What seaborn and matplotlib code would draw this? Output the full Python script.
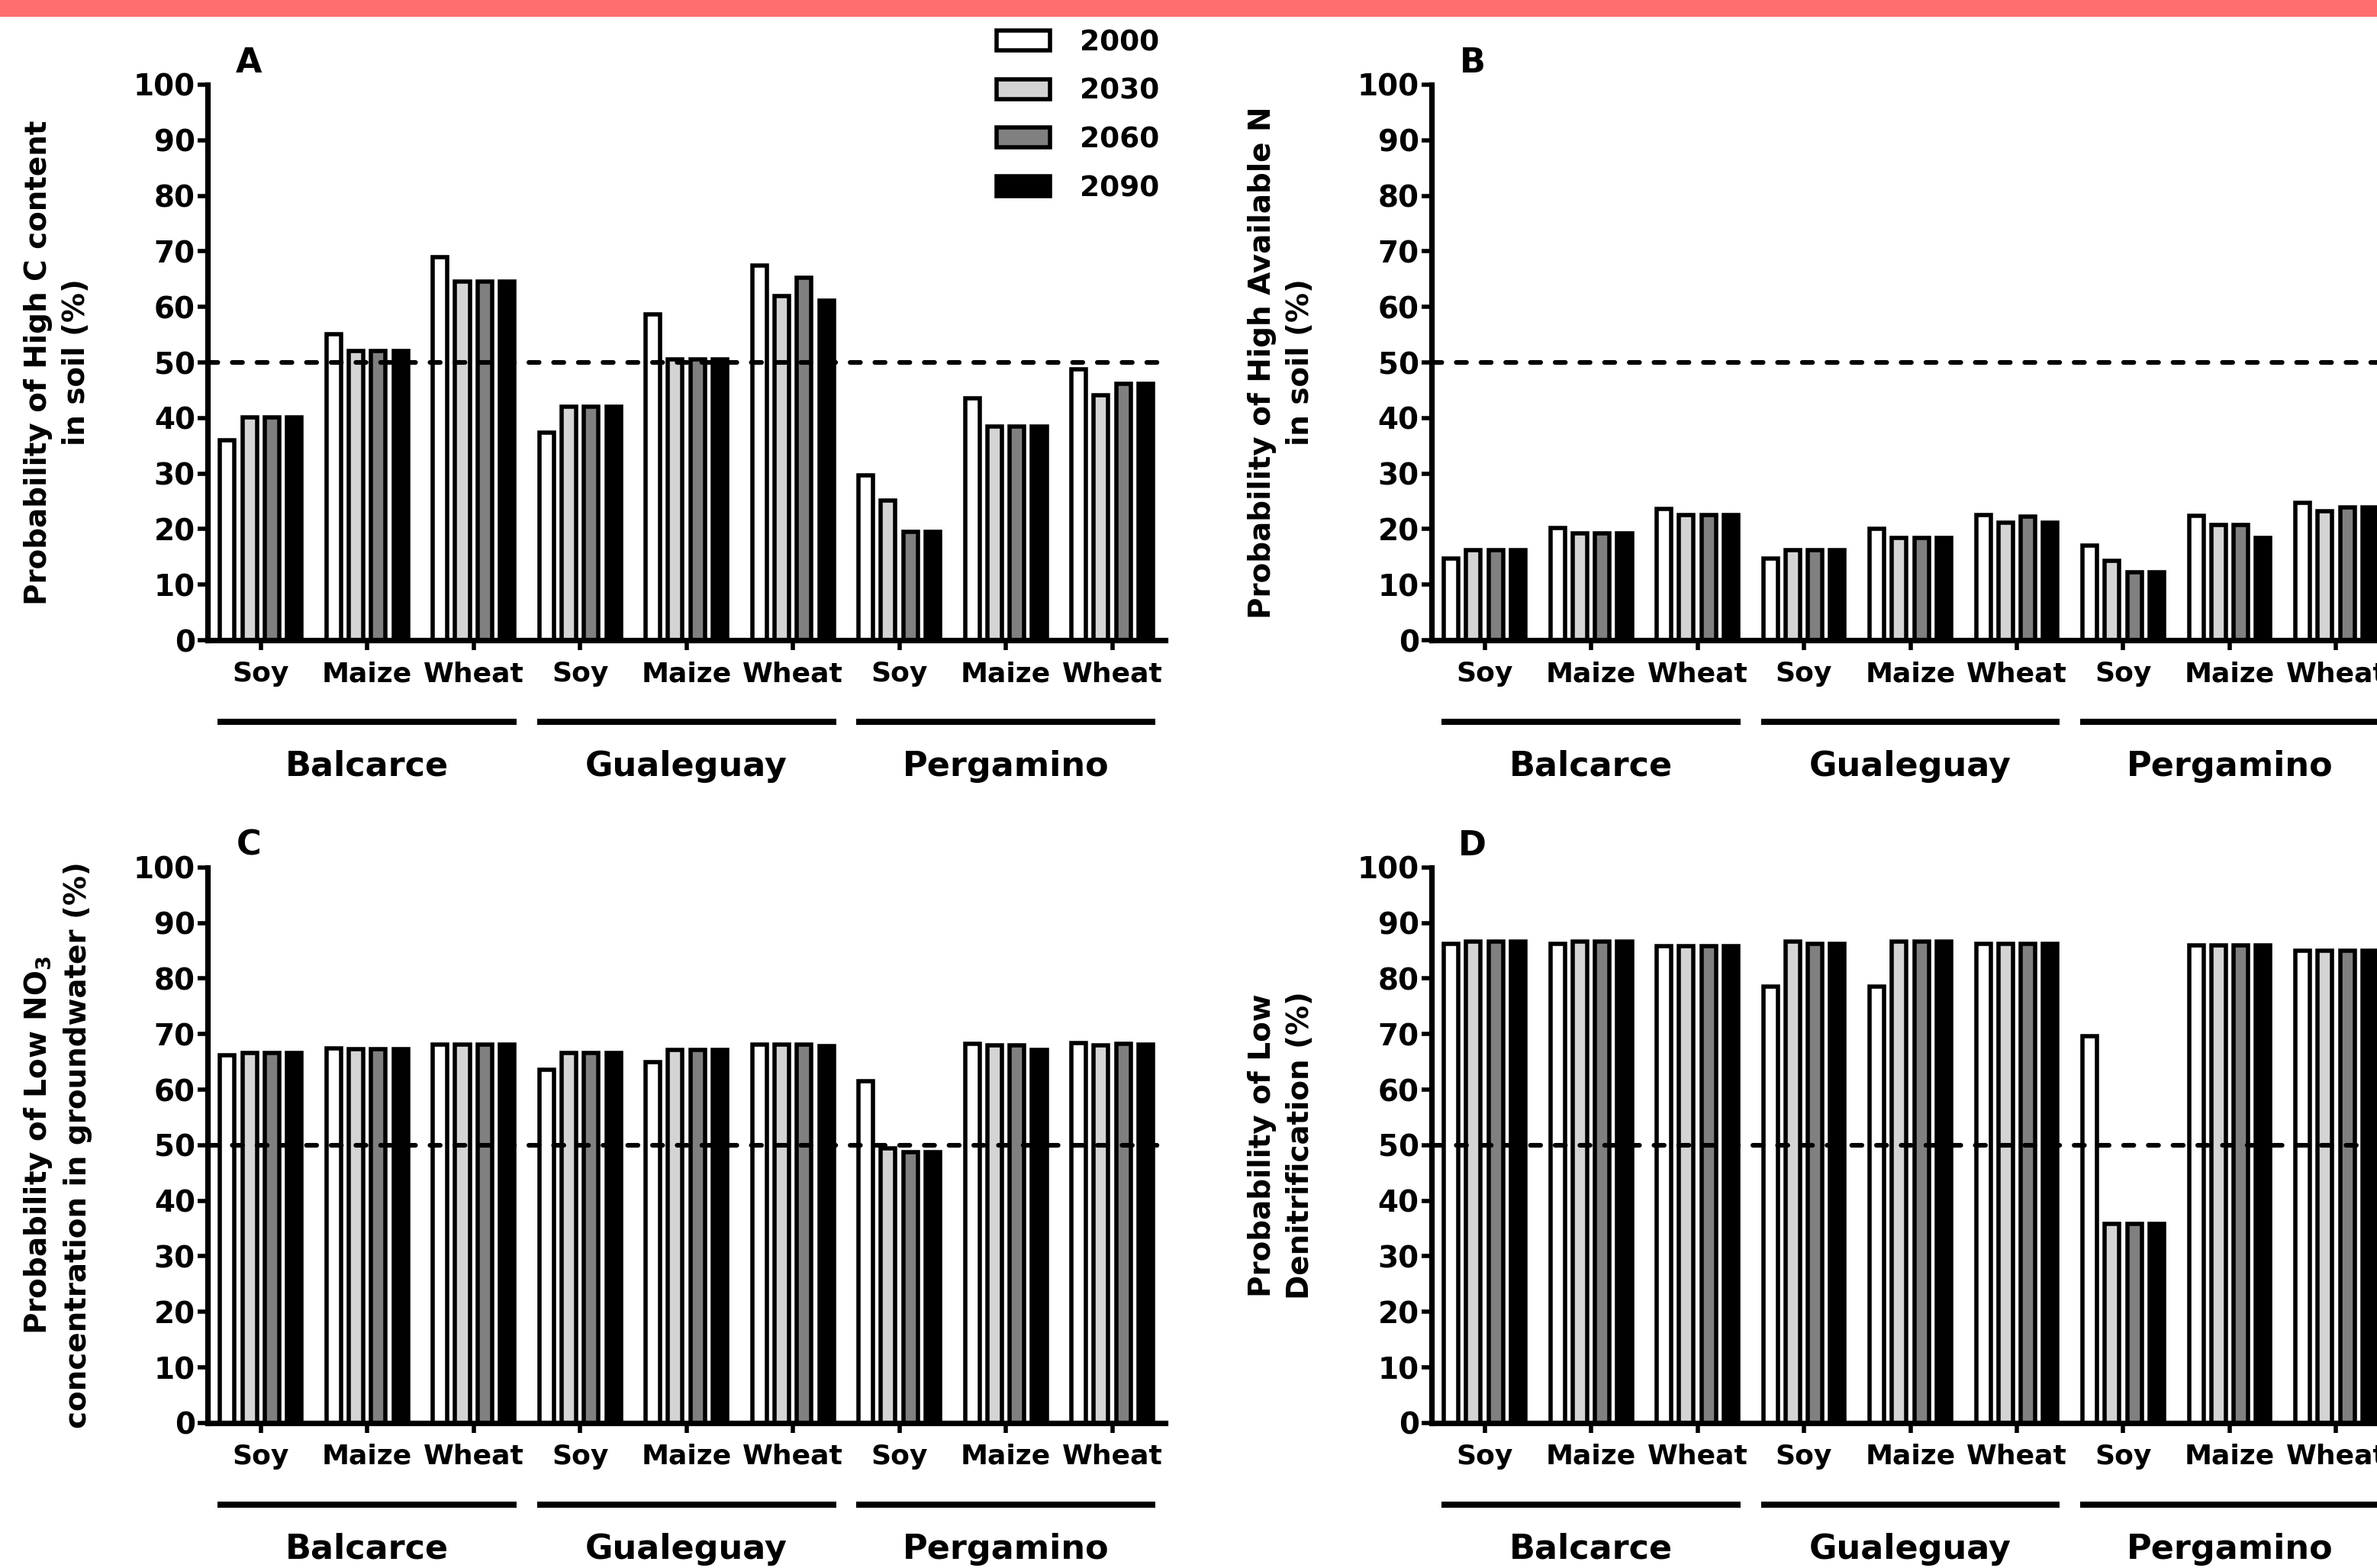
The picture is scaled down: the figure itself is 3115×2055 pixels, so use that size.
import numpy as np
import pandas as pd
import matplotlib
matplotlib.use("Agg")
import matplotlib.pyplot as plt
from matplotlib.patches import Rectangle
import seaborn as sns

# ---------------- data ----------------
sites = ["Balcarce", "Gualeguay", "Pergamino"]
crops = ["Soy", "Maize", "Wheat"]
years = ["2000", "2030", "2060", "2090"]
year_colors = ["#FFFFFF", "#D4D4D4", "#808080", "#000000"]

# Panel A: probability of high C content in soil (%)
carbon_2000 = [36.0, 55.1, 69.0, 37.4, 58.6, 67.4, 29.7, 43.5, 48.8]
carbon_2030 = [40.1, 52.0, 64.6, 42.0, 50.5, 61.9, 25.1, 38.4, 44.1]
carbon_2060 = [40.1, 52.0, 64.6, 42.0, 50.5, 65.3, 19.5, 38.4, 46.1]
carbon_2090 = [40.1, 52.0, 64.6, 42.0, 50.5, 61.1, 19.5, 38.4, 46.1]

# Panel B: probability of high available N in soil (%)
nitrogen_2000 = [14.7, 20.2, 23.6, 14.7, 20.1, 22.5, 17.0, 22.4, 24.7]
nitrogen_2030 = [16.2, 19.3, 22.6, 16.2, 18.4, 21.2, 14.3, 20.7, 23.2]
nitrogen_2060 = [16.2, 19.3, 22.6, 16.2, 18.4, 22.2, 12.2, 20.7, 23.9]
nitrogen_2090 = [16.2, 19.3, 22.6, 16.2, 18.4, 21.1, 12.2, 18.4, 23.9]

# Panel C: probability of low NO3 concentration in groundwater (%)
nitrate_2000 = [66.2, 67.4, 68.1, 63.6, 65.0, 68.1, 61.5, 68.2, 68.4]
nitrate_2030 = [66.6, 67.3, 68.1, 66.6, 67.2, 68.1, 49.4, 68.0, 68.0]
nitrate_2060 = [66.6, 67.3, 68.1, 66.6, 67.2, 68.1, 48.8, 68.0, 68.2]
nitrate_2090 = [66.6, 67.3, 68.1, 66.6, 67.2, 67.8, 48.7, 67.1, 68.1]

# Panel D: probability of low denitrification (%)
denit_2000 = [86.2, 86.2, 85.8, 78.5, 78.5, 86.3, 69.6, 86.0, 85.0]
denit_2030 = [86.6, 86.7, 85.8, 86.7, 86.7, 86.3, 35.8, 86.0, 85.0]
denit_2060 = [86.6, 86.7, 85.8, 86.2, 86.7, 86.3, 35.8, 86.0, 85.0]
denit_2090 = [86.6, 86.7, 85.8, 86.2, 86.7, 86.3, 35.8, 86.0, 85.0]

y_ticks = [0, 10, 20, 30, 40, 50, 60, 70, 80, 90, 100]
threshold = 50

panel_letters = ["A", "B", "C", "D"]
panel_ylabels = [
    "Probability of High C content\nin soil (%)",
    "Probability of High Available N\nin soil (%)",
    "Probability of Low NO$_\\mathbf{3}$\nconcentration in groundwater (%)",
    "Probability of Low\nDenitrification (%)",
]
panel_series = [
    [carbon_2000, carbon_2030, carbon_2060, carbon_2090],
    [nitrogen_2000, nitrogen_2030, nitrogen_2060, nitrogen_2090],
    [nitrate_2000, nitrate_2030, nitrate_2060, nitrate_2090],
    [denit_2000, denit_2030, denit_2060, denit_2090],
]

keys = [f"{s}|{c}" for s in sites for c in crops]


def make_df(series):
    rows = []
    for yr, vals in zip(years, series):
        for k, v in zip(keys, vals):
            rows.append({"key": k, "year": yr, "value": v})
    return pd.DataFrame(rows)


# ---------------- style ----------------
sns.set_style("ticks")
plt.rcParams["font.family"] = ["DejaVu Sans"]
plt.rcParams["font.weight"] = "bold"
plt.rcParams["axes.labelweight"] = "bold"
plt.rcParams["mathtext.default"] = "bf"
for key in ["text.color", "axes.labelcolor", "xtick.color", "ytick.color",
            "axes.edgecolor"]:
    plt.rcParams[key] = "black"

W, H = 3115, 2055
DPI = 200
fig = plt.figure(figsize=(W / DPI, H / DPI), dpi=DPI, facecolor="white")

ax_w = 0.403
ax_h = 0.3543
lefts = [0.0873, 0.6022]
bottoms = [0.5917, 0.0925]
positions = [
    (lefts[0], bottoms[0]), (lefts[1], bottoms[0]),
    (lefts[0], bottoms[1]), (lefts[1], bottoms[1]),
]

# top banner
fig.add_artist(Rectangle((0, 1 - 22 / H), 1, 22 / H, transform=fig.transFigure,
                         color="#FF6F6F", lw=0, zorder=0))

legend_handles = None
for i, (pos, series) in enumerate(zip(positions, panel_series)):
    ax = fig.add_axes([pos[0], pos[1], ax_w, ax_h])
    df = make_df(series)
    sns.barplot(data=df, x="key", y="value", hue="year", order=keys,
                hue_order=years, palette=year_colors, saturation=1,
                edgecolor="black", linewidth=2.0, width=0.84, gap=0.35,
                errorbar=None, ax=ax, legend=(i == 0), zorder=2)
    if i == 0:
        legend_handles, legend_labels = ax.get_legend_handles_labels()
        ax.get_legend().remove()

    ax.set_xlim(-0.5, len(keys) - 0.5)
    ax.set_ylim(0, 100)
    ax.set_yticks(y_ticks)
    ax.set_xticks(range(len(keys)))
    ax.set_xticklabels(crops * len(sites))
    ax.set_xlabel("")
    ax.set_ylabel(panel_ylabels[i], fontsize=14, fontweight="bold",
                  linespacing=1.4, color="black")
    ax.yaxis.set_label_coords(-0.157, 0.5)
    ax.yaxis.label.set_verticalalignment("center")

    for side in ["top", "right"]:
        ax.spines[side].set_visible(False)
    for side in ["left", "bottom"]:
        ax.spines[side].set_linewidth(2.6)
        ax.spines[side].set_color("black")
    ax.tick_params(axis="y", length=4.8, width=2.0, pad=1, labelsize=14,
                   color="black", labelcolor="black")
    ax.tick_params(axis="x", length=4.7, width=2.0, pad=5, labelsize=13,
                   color="black", labelcolor="black")
    for lab in ax.get_xticklabels() + ax.get_yticklabels():
        lab.set_fontweight("bold")

    ax.axhline(threshold, color="black", lw=2.2, dashes=(2.2, 3.1),
               dash_capstyle="round", zorder=5)

    tr = ax.get_xaxis_transform()
    for j, site in enumerate(sites):
        c = j * len(crops) + 1
        ax.plot([c - 1.405, c + 1.405], [-0.147, -0.147], transform=tr,
                clip_on=False, color="black", lw=2.9, solid_capstyle="butt")
        ax.text(c, -0.227, site, transform=tr, ha="center", va="center",
                fontsize=16, fontweight="bold", color="black")

    ax.text(0.043, 1.039, panel_letters[i], transform=ax.transAxes,
            ha="center", va="center", fontsize=16, fontweight="bold",
            color="black")

fig.legend(legend_handles, legend_labels, loc="upper left",
           bbox_to_anchor=(0.4193, 0.9815), bbox_transform=fig.transFigure,
           frameon=False, borderpad=0, borderaxespad=0,
           labelspacing=0.74, handlelength=1.87, handleheight=0.69,
           handletextpad=1.04, labelcolor="black",
           prop={"weight": "bold", "size": 13.5})

fig.savefig("out.png", dpi=DPI, facecolor="white")
